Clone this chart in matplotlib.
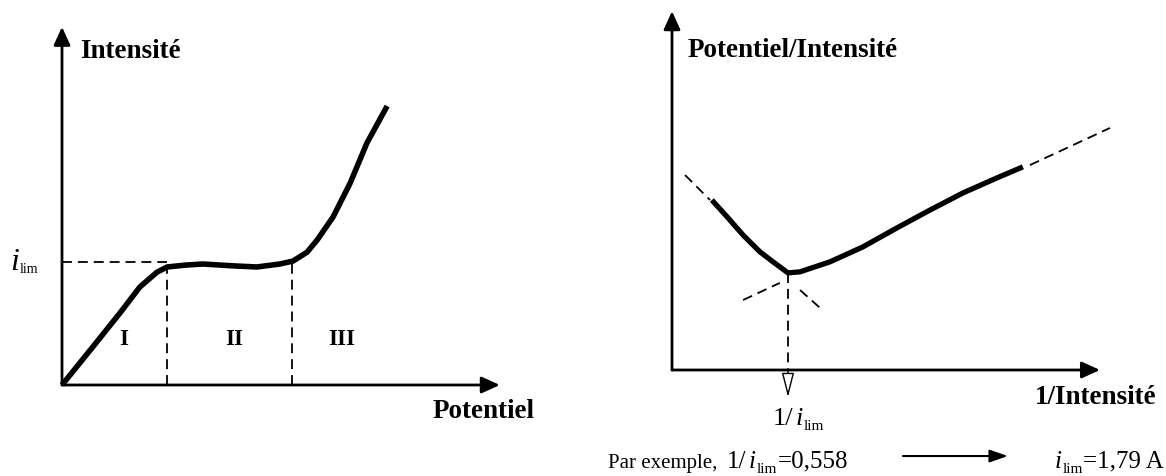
import numpy as np
import matplotlib
matplotlib.use('Agg')
import matplotlib.pyplot as plt

plt.rcParams['font.family'] = ['Liberation Serif', 'DejaVu Serif']

# left panel: intensity vs potential (arbitrary units)
pot = [0, 0.70, 1.32, 1.77, 2.16, 2.39, 2.80, 3.20, 3.89, 4.43, 4.95, 5.25,
       5.57, 5.80, 6.16, 6.55, 6.93, 7.39]
intens = [0, 1.03, 1.95, 2.65, 3.05, 3.19, 3.24, 3.27, 3.22, 3.19, 3.27, 3.35,
          3.59, 3.92, 4.54, 5.46, 6.54, 7.54]
i_lim = 3.32
bounds = [2.39, 5.23]
regions = ['I', 'II', 'III']
region_x = [1.41, 3.91, 6.36]

# right panel: potential/intensity vs 1/intensity
inv_i = [0.192, 0.265, 0.342, 0.423, 0.486, 0.558, 0.616, 0.688, 0.760, 0.919,
         1.082, 1.241, 1.400, 1.563, 1.688]
pot_over_i = [4.76, 4.29, 3.78, 3.31, 3.03, 2.72, 2.75, 2.89, 3.03, 3.45,
              3.98, 4.48, 4.96, 5.38, 5.69]
inv_ilim = 0.558
# dashed tangents (segments not hidden by the curve)
tan_right = [([0.342, 0.519], [1.96, 2.44]), ([1.722, 2.107], [5.74, 6.78])]
tan_left = [([0.063, 0.183], [5.46, 4.76]), ([0.616, 0.712], [2.24, 1.74])]

W, H = 1166, 476
fig = plt.figure(figsize=(W / 100, H / 100), dpi=100)
renderer = fig.canvas.get_renderer()

dash = (0, (5.5, 3.3))
bold = dict(fontsize=19.5, fontweight='bold')


def axis_arrow(ax, start, end, lw=2.0):
    ax.annotate('', xy=end, xytext=start,
                arrowprops=dict(arrowstyle='-|>,head_length=1.1,head_width=0.5',
                                lw=lw, color='black', shrinkA=0, shrinkB=0,
                                mutation_scale=10),
                annotation_clip=False)


def run_text(ax, x, y, pieces):
    # pieces: (text, size, style, gap before in pt, baseline shift in pt)
    off = 0.0
    for s, size, style, gap, dy in pieces:
        off += gap
        t = ax.annotate(s, xy=(x, y), xytext=(off, dy), textcoords='offset points',
                        ha='left', va='baseline', fontsize=size, style=style,
                        annotation_clip=False)
        off += t.get_window_extent(renderer).width * 72 / fig.dpi


# ---------- left panel ----------
ax1 = fig.add_axes([62 / W, 1 - 385 / H, 440 / W, 370 / H])
ax1.set_xlim(0, 10)
ax1.set_ylim(0, 10)
ax1.axis('off')

axis_arrow(ax1, (0, 0), (0, 9.68))
axis_arrow(ax1, (0, 0), (9.95, 0))

ax1.plot([0, bounds[0]], [i_lim, i_lim], color='black', lw=1.3, ls=dash, clip_on=False)
ax1.plot([bounds[0], bounds[0]], [0, 3.16], color='black', lw=1.3, ls=dash)
ax1.plot([bounds[1], bounds[1]], [0, i_lim], color='black', lw=1.3, ls=dash)
ax1.plot(pot, intens, color='black', lw=4.0, solid_joinstyle='round',
         solid_capstyle='butt', clip_on=False)

for lab, xr in zip(regions, region_x):
    ax1.text(xr, 1.22, lab, ha='center', va='center', fontsize=16.5, fontweight='bold')

ax1.text(0.41, 9.0, 'Intensité', ha='left', va='center', **bold)
ax1.text(8.43, -0.72, 'Potentiel', ha='left', va='center', **bold)
run_text(ax1, -1.18, 3.11, [('i', 23, 'italic', 0, 0), ('lim', 10, 'normal', 0.5, -2.5)])

# ---------- right panel ----------
ax2 = fig.add_axes([672 / W, 1 - 370 / H, 428 / W, 357 / H])
ax2.set_xlim(0, 2.059)
ax2.set_ylim(0, 10)
ax2.axis('off')

axis_arrow(ax2, (0, 0), (0, 10.05))
axis_arrow(ax2, (0, 0), (2.059, 0))

for xs, ys in tan_right + tan_left:
    ax2.plot(xs, ys, color='black', lw=1.3, ls=dash, clip_on=False)

ax2.plot([inv_ilim, inv_ilim], [2.72, 0], color='black', lw=1.3, ls=dash)
ax2.annotate('', xy=(inv_ilim, -0.76), xytext=(inv_ilim, 0),
             arrowprops=dict(arrowstyle='-|>,head_length=1.5,head_width=0.38',
                             lw=1.0, fc='white', ec='black', shrinkA=0, shrinkB=0,
                             mutation_scale=10),
             annotation_clip=False)

ax2.plot(inv_i, pot_over_i, color='black', lw=3.8, solid_joinstyle='round',
         solid_capstyle='butt', clip_on=False)

ax2.text(0.077, 8.96, 'Potentiel/Intensité', ha='left', va='center', **bold)
ax2.text(1.745, -0.76, '1/Intensité', ha='left', va='center', **bold)
run_text(ax2, 0.486, -1.54, [('1/', 19, 'normal', 0, 0), ('i', 19, 'italic', 1.5, 0),
                              ('lim', 11, 'normal', 0.3, -3.5)])

run_text(ax2, -0.308, -2.74, [('Par exemple,', 15, 'normal', 0, 0),
                               ('1/', 18, 'normal', 7, 0), ('i', 18, 'italic', 1.5, 0),
                               ('lim', 11, 'normal', 0.3, -3.5),
                               ('=0,558', 18, 'normal', 0.5, 0)])
ax2.annotate('', xy=(1.616, -2.41), xytext=(1.111, -2.41),
             arrowprops=dict(arrowstyle='-|>,head_length=1.1,head_width=0.38',
                             lw=1.5, color='black', shrinkA=0, shrinkB=0,
                             mutation_scale=10),
             annotation_clip=False)
run_text(ax2, 1.842, -2.74, [('i', 18, 'italic', 0, 0), ('lim', 11, 'normal', 0.3, -3.5),
                              ('=1,79 A', 18, 'normal', 0.5, 0)])

fig.savefig('out.png', dpi=100)
